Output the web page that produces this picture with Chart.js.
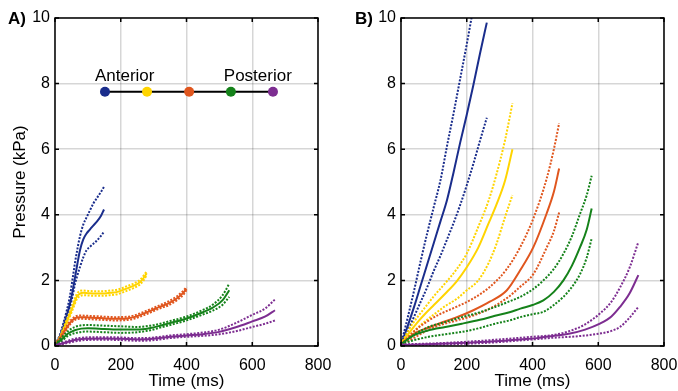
<!DOCTYPE html>
<html>
<head>
<meta charset="utf-8">
<script src="https://cdn.jsdelivr.net/npm/chart.js@4/dist/chart.umd.min.js"></script>
<style>
  body { margin: 0; background: #fff; width: 678px; height: 391px; overflow: hidden;
         font-family: "Liberation Sans", Arial, Helvetica, sans-serif; }
  canvas { position: absolute; top: 0; }
  .tag { position: absolute; font-weight: bold; font-size: 17px; line-height: 17px; }
</style>
</head>
<body>
<canvas id="chartA" width="339" height="391" style="left:0"></canvas>
<canvas id="chartB" width="339" height="391" style="left:339px"></canvas>
<div class="tag" style="left:8px;top:10px">A)</div>
<div class="tag" style="left:355px;top:10px">B)</div>
<script>
// axes
const xTicks = [0, 200, 400, 600, 800];
const yTicks = [0, 2, 4, 6, 8, 10];

// colours, anterior -> posterior
const colors = ['#1a2d8c', '#ffd400', '#e0561e', '#15821a', '#7d2d91'];

// schematic in panel A
const schemX = [152, 280, 408, 535, 663];
const schemY = 7.75;

// ---- panel A ----
const aBlueT  = [0, 5, 15, 25, 35, 45, 55, 61, 68, 76, 86, 96, 106, 117, 128, 140, 149];
const aBlueM  = [0.05, 0.12, 0.3, 0.58, 0.92, 1.27, 1.75, 2.1, 2.5, 2.92, 3.25, 3.43, 3.55, 3.68, 3.8, 3.97, 4.16];
const aBlueHi = [0.05, 0.13, 0.35, 0.68, 1.05, 1.5, 2.15, 2.55, 2.95, 3.35, 3.7, 3.92, 4.13, 4.35, 4.52, 4.7, 4.85];
const aBlueLo = [0.05, 0.1, 0.25, 0.55, 0.82, 1.15, 1.6, 1.9, 2.15, 2.41, 2.7, 2.92, 3.02, 3.12, 3.22, 3.36, 3.48];

const aYelT  = [0, 12, 25, 35, 46, 58, 66, 76, 86, 100, 120, 140, 167, 190, 218, 240, 259, 270, 279];
const aYelM  = [0.05, 0.2, 0.48, 0.72, 0.99, 1.3, 1.5, 1.6, 1.62, 1.61, 1.6, 1.6, 1.62, 1.65, 1.75, 1.84, 1.95, 2.08, 2.22];
const aYelHi = [0.06, 0.23, 0.53, 0.79, 1.06, 1.38, 1.58, 1.68, 1.69, 1.68, 1.67, 1.67, 1.69, 1.72, 1.82, 1.91, 2.02, 2.15, 2.28];
const aYelLo = [0.04, 0.17, 0.43, 0.65, 0.92, 1.22, 1.42, 1.52, 1.55, 1.54, 1.53, 1.53, 1.55, 1.58, 1.68, 1.77, 1.88, 2.01, 2.16];

const aOrT  = [0, 12, 25, 35, 45, 60, 75, 100, 140, 180, 218, 240, 260, 290, 320, 345, 370, 390, 400];
const aOrM  = [0.05, 0.18, 0.38, 0.55, 0.7, 0.84, 0.88, 0.87, 0.85, 0.83, 0.84, 0.88, 0.95, 1.07, 1.2, 1.3, 1.45, 1.62, 1.75];
const aOrHi = [0.06, 0.21, 0.43, 0.6, 0.75, 0.89, 0.93, 0.92, 0.9, 0.88, 0.89, 0.93, 1.0, 1.12, 1.25, 1.36, 1.51, 1.68, 1.8];
const aOrLo = [0.04, 0.15, 0.33, 0.5, 0.65, 0.79, 0.83, 0.82, 0.8, 0.78, 0.79, 0.83, 0.9, 1.02, 1.15, 1.24, 1.39, 1.56, 1.7];

const aGrT  = [0, 20, 40, 60, 80, 100, 150, 200, 250, 290, 320, 350, 400, 450, 480, 510, 530];
const aGrM  = [0.03, 0.2, 0.38, 0.48, 0.53, 0.54, 0.52, 0.5, 0.5, 0.55, 0.62, 0.7, 0.84, 1.03, 1.17, 1.4, 1.7];
const aGrHi = [0.04, 0.26, 0.46, 0.58, 0.63, 0.64, 0.62, 0.6, 0.58, 0.62, 0.68, 0.76, 0.9, 1.1, 1.26, 1.55, 1.9];
const aGrLo = [0.02, 0.15, 0.31, 0.39, 0.43, 0.44, 0.42, 0.4, 0.42, 0.48, 0.56, 0.64, 0.78, 0.96, 1.08, 1.26, 1.5];

const aPuT  = [0, 30, 60, 90, 150, 200, 250, 290, 350, 400, 450, 500, 550, 600, 640, 669];
const aPuM  = [0.02, 0.1, 0.18, 0.22, 0.23, 0.22, 0.2, 0.21, 0.28, 0.32, 0.36, 0.43, 0.57, 0.75, 0.9, 1.09];
const aPuHi = [0.03, 0.13, 0.22, 0.26, 0.27, 0.26, 0.24, 0.25, 0.32, 0.36, 0.41, 0.5, 0.7, 0.95, 1.15, 1.42];
const aPuLo = [0.01, 0.07, 0.14, 0.18, 0.19, 0.18, 0.16, 0.17, 0.24, 0.28, 0.31, 0.36, 0.45, 0.58, 0.68, 0.78];

// ---- panel B ----
const bBlueT  = [0, 20, 40, 60, 80, 100, 120, 140, 160, 180, 200, 220, 240, 261];
const bBlueM  = [0.05, 0.6, 1.2, 1.85, 2.5, 3.15, 3.8, 4.45, 5.3, 6.2, 7.05, 7.95, 8.9, 9.86];
const bBlueHi = [0.05, 0.85, 1.7, 2.6, 3.45, 4.25, 5.05, 6.1, 7.1, 8.15, 9.2, 10.3, 11.3, 12.4];
const bBlueLo = [0.05, 0.45, 0.9, 1.35, 1.8, 2.3, 2.75, 3.25, 3.75, 4.3, 4.9, 5.55, 6.25, 6.96];

const bYelT  = [0, 25, 50, 75, 100, 135, 170, 200, 235, 266, 290, 317, 339];
const bYelM  = [0.05, 0.4, 0.72, 1.0, 1.25, 1.6, 1.98, 2.4, 3.0, 3.73, 4.3, 5.06, 6.0];
const bYelHi = [0.05, 0.52, 0.88, 1.2, 1.52, 1.92, 2.35, 2.82, 3.63, 4.42, 5.22, 6.3, 7.4];
const bYelLo = [0.05, 0.3, 0.55, 0.77, 0.96, 1.22, 1.44, 1.7, 2.0, 2.52, 3.1, 3.95, 4.6];

const bOrT  = [0, 40, 80, 120, 170, 220, 270, 322, 362, 403, 443, 465, 481];
const bOrM  = [0.05, 0.38, 0.55, 0.7, 0.88, 1.09, 1.35, 1.7, 2.3, 3.02, 4.04, 4.7, 5.41];
const bOrHi = [0.05, 0.45, 0.75, 0.98, 1.2, 1.45, 1.8, 2.35, 3.0, 3.9, 5.1, 6.0, 6.79];
const bOrLo = [0.05, 0.25, 0.48, 0.64, 0.78, 0.93, 1.14, 1.46, 1.8, 2.2, 3.0, 3.5, 4.07];

const bGrT  = [0, 40, 84, 135, 185, 240, 286, 330, 363, 400, 433, 465, 494, 520, 545, 565, 580];
const bGrM  = [0.05, 0.33, 0.48, 0.58, 0.68, 0.8, 0.92, 1.03, 1.14, 1.25, 1.39, 1.65, 2.0, 2.45, 3.02, 3.55, 4.19];
const bGrHi = [0.05, 0.35, 0.58, 0.73, 0.88, 1.03, 1.19, 1.36, 1.5, 1.72, 2.0, 2.35, 2.81, 3.35, 4.04, 4.6, 5.19];
const bGrLo = [0.05, 0.18, 0.28, 0.36, 0.43, 0.55, 0.68, 0.78, 0.88, 0.97, 1.04, 1.25, 1.5, 1.8, 2.2, 2.7, 3.28];

const bPuT  = [0, 100, 200, 300, 362, 413, 460, 514, 560, 605, 640, 666, 695, 722];
const bPuM  = [0.03, 0.06, 0.1, 0.15, 0.2, 0.24, 0.3, 0.38, 0.5, 0.68, 0.9, 1.19, 1.6, 2.16];
const bPuHi = [0.05, 0.08, 0.13, 0.2, 0.25, 0.29, 0.33, 0.46, 0.66, 0.99, 1.35, 1.78, 2.38, 3.17];
const bPuLo = [0.02, 0.04, 0.07, 0.12, 0.17, 0.21, 0.25, 0.28, 0.32, 0.38, 0.46, 0.58, 0.86, 1.19];

Chart.defaults.font.family = '"Liberation Sans", Arial, Helvetica, sans-serif';
Chart.defaults.color = '#000';

function pts(t, ys) {
    return t.map((v, i) => ({ x: v, y: ys[i] }));
}

// mean (solid) plus upper/lower (dotted) for one location
function band(t, m, hi, lo, color) {
    const dotted = { borderColor: color, borderWidth: 2, borderDash: [2, 1.5] };
    return [
        Object.assign({ data: pts(t, hi) }, dotted),
        Object.assign({ data: pts(t, lo) }, dotted),
        { data: pts(t, m), borderColor: color, borderWidth: 2 }
    ];
}

function makeScales(yTitle, yWidth) {
    return {
        x: {
            type: 'linear', min: 0, max: 800,
            afterBuildTicks: s => { s.ticks = xTicks.map(v => ({ value: v })); },
            ticks: { padding: 0, font: { size: 16 }, maxRotation: 0 },
            // invisible tick marks just push the labels down
            grid: { color: 'rgba(0,0,0,0.16)', lineWidth: 1.5, drawTicks: true, tickLength: 10, tickColor: 'rgba(0,0,0,0)' },
            border: { display: false },
            title: { display: true, text: 'Time (ms)', font: { size: 17, lineHeight: 1.1 }, padding: { top: 0, bottom: 0 } },
            afterFit: s => { s.height = 45; }
        },
        y: {
            min: 0, max: 10,
            afterBuildTicks: s => { s.ticks = yTicks.map(v => ({ value: v })); },
            ticks: { padding: 5, font: { size: 16 } },
            grid: { color: 'rgba(0,0,0,0.16)', lineWidth: 1.5, drawTicks: false },
            border: { display: false },
            title: { display: yTitle, text: 'Pressure (kPa)', font: { size: 17 }, padding: { top: 10, bottom: 0 } },
            afterFit: s => { s.width = yWidth; }
        }
    };
}

// black box with inward tick marks, MATLAB style
const boxPlugin = {
    id: 'box',
    afterDatasetsDraw(chart) {
        const { ctx, chartArea: a, scales: { x, y } } = chart;
        ctx.save();
        ctx.strokeStyle = '#000';
        ctx.lineWidth = 1.5;
        ctx.strokeRect(a.left, a.top, a.right - a.left, a.bottom - a.top);
        ctx.beginPath();
        xTicks.forEach(v => {
            const px = x.getPixelForValue(v);
            ctx.moveTo(px, a.bottom); ctx.lineTo(px, a.bottom - 4);
            ctx.moveTo(px, a.top); ctx.lineTo(px, a.top + 4);
        });
        yTicks.forEach(v => {
            const py = y.getPixelForValue(v);
            ctx.moveTo(a.left, py); ctx.lineTo(a.left + 4, py);
            ctx.moveTo(a.right, py); ctx.lineTo(a.right - 4, py);
        });
        ctx.stroke();
        ctx.restore();
    }
};

const schemLabels = {
    id: 'schemLabels',
    afterDatasetsDraw(chart) {
        const { ctx, scales: { x, y } } = chart;
        ctx.save();
        ctx.font = '17px "Liberation Sans", Arial, sans-serif';
        ctx.fillStyle = '#000';
        ctx.textAlign = 'center';
        ctx.textBaseline = 'alphabetic';
        ctx.fillText('Anterior', x.getPixelForValue(212), y.getPixelForValue(8.08));
        ctx.fillText('Posterior', x.getPixelForValue(617), y.getPixelForValue(8.08));
        ctx.restore();
    }
};

const common = {
    responsive: false,
    animation: false,
    devicePixelRatio: 1,
    plugins: { legend: { display: false }, tooltip: { enabled: false } },
    elements: { point: { radius: 0 }, line: { tension: 0.4, cubicInterpolationMode: 'monotone', fill: false } }
};

const dsA = [].concat(
    band(aPuT, aPuM, aPuHi, aPuLo, colors[4]),
    band(aGrT, aGrM, aGrHi, aGrLo, colors[3]),
    band(aOrT, aOrM, aOrHi, aOrLo, colors[2]),
    band(aYelT, aYelM, aYelHi, aYelLo, colors[1]),
    band(aBlueT, aBlueM, aBlueHi, aBlueLo, colors[0]),
    [{
        data: schemX.map(v => ({ x: v, y: schemY })),
        borderColor: '#000', borderWidth: 2, tension: 0,
        pointRadius: 5, pointBorderWidth: 0, pointBackgroundColor: colors
    }]
);

new Chart(document.getElementById('chartA'), {
    type: 'line',
    data: { datasets: dsA },
    options: Object.assign({}, common, {
        layout: { padding: { left: 0, right: 21, top: 18, bottom: 0 } },
        scales: makeScales(true, 55)
    }),
    plugins: [boxPlugin, schemLabels]
});

const dsB = [].concat(
    band(bPuT, bPuM, bPuHi, bPuLo, colors[4]),
    band(bGrT, bGrM, bGrHi, bGrLo, colors[3]),
    band(bOrT, bOrM, bOrHi, bOrLo, colors[2]),
    band(bYelT, bYelM, bYelHi, bYelLo, colors[1]),
    band(bBlueT, bBlueM, bBlueHi, bBlueLo, colors[0])
);

new Chart(document.getElementById('chartB'), {
    type: 'line',
    data: { datasets: dsB },
    options: Object.assign({}, common, {
        layout: { padding: { left: 0, right: 14, top: 18, bottom: 0 } },
        scales: makeScales(false, 62)
    }),
    plugins: [boxPlugin]
});
</script>
</body>
</html>
